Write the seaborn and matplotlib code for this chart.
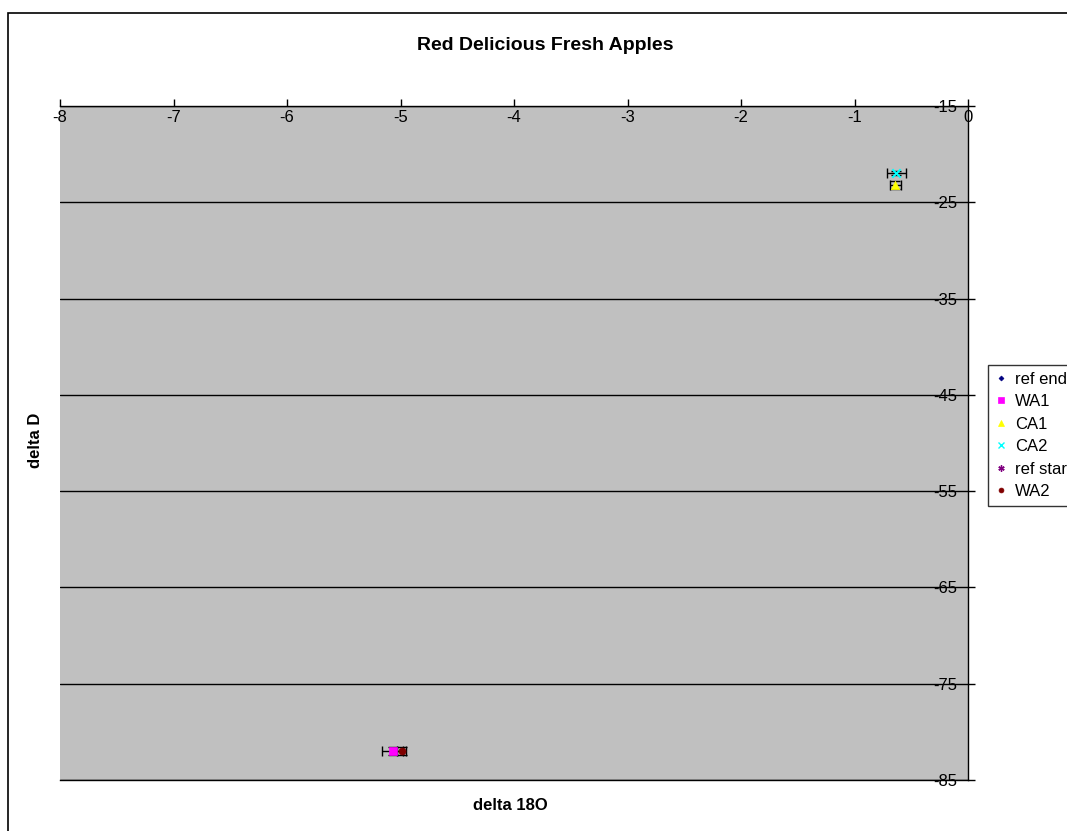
import matplotlib
matplotlib.use("Agg")
import matplotlib.pyplot as plt
from matplotlib.lines import Line2D
from matplotlib.patches import Rectangle
import seaborn as sns
import pandas as pd

# ---- data ----
series_all = ["ref end", "WA1", "CA1", "CA2", "ref star", "WA2"]
series = ["WA1", "CA1", "CA2", "WA2"]
delta18O = [-5.07, -0.64, -0.63, -4.99]
deltaD = [-82.0, -23.2, -22.0, -82.0]
err18O = [0.09, 0.05, 0.08, 0.04]
errD = [0.45, 0.45, 0.2, 0.45]
xticks = [-8, -7, -6, -5, -4, -3, -2, -1, 0]
yticks = [-15, -25, -35, -45, -55, -65, -75, -85]

colors = {"ref end": "#000080", "WA1": "#FF00FF", "CA1": "#FFFF00",
          "CA2": "#00FFFF", "ref star": "#800080", "WA2": "#800000"}
markers = {"ref end": "D", "WA1": "s", "CA1": "^", "CA2": "x",
           "ref star": (6, 2, 0), "WA2": "o"}
msizes = {"ref end": 4, "WA1": 6, "CA1": 6, "CA2": 6, "ref star": 6, "WA2": 5}

sns.set_theme(style="white")
plt.rcParams["font.family"] = ["Liberation Sans", "DejaVu Sans"]
plt.rcParams["axes.unicode_minus"] = False
plt.rcParams["text.color"] = "black"

W, H = 1067, 831
fig = plt.figure(figsize=(W / 100, H / 100), dpi=100)
ax = fig.add_axes([60 / W, 1 - 780 / H, (968 - 60) / W, (780 - 106) / H])
ax.set_facecolor("#C0C0C0")

df = pd.DataFrame({"series": series, "x": delta18O, "y": deltaD,
                   "xe": err18O, "ye": errD})

ax.errorbar(df["x"], df["y"], xerr=df["xe"], yerr=df["ye"], fmt="none",
            ecolor="black", elinewidth=1, capsize=3.5, capthick=1, zorder=3)
for s in series:
    sub = df[df["series"] == s]
    sns.scatterplot(data=sub, x="x", y="y", ax=ax, color=colors[s],
                    marker=markers[s], s=msizes[s] ** 2,
                    edgecolor=colors[s] if markers[s] != "x" else None,
                    linewidth=1.5 if markers[s] == "x" else 0.5,
                    legend=False, zorder=5)

ax.set_xlim(-8, 0)
ax.set_ylim(-85, -15)
ax.set_xticks(xticks)
ax.set_yticks(yticks)
ax.set_xlabel("")
ax.set_ylabel("")

ax.xaxis.tick_top()
ax.yaxis.tick_right()
ax.tick_params(axis="x", direction="out", length=5, width=1, color="black",
               pad=-5 - 3, labelsize=12, labelcolor="black")
ax.tick_params(axis="y", direction="out", length=5, width=1, color="black",
               pad=-5 - 8, labelsize=12, labelcolor="black")
for lbl in ax.get_xticklabels():
    lbl.set_va("top")
for lbl in ax.get_yticklabels():
    lbl.set_ha("right")

ax.yaxis.grid(True, color="black", linewidth=1)
ax.xaxis.grid(False)
ax.set_axisbelow(True)
ax.spines["left"].set_visible(False)
for side in ["top", "right", "bottom"]:
    ax.spines[side].set_visible(True)
    ax.spines[side].set_color("black")
    ax.spines[side].set_linewidth(1)

fig.text(545 / W, 1 - 45 / H, "Red Delicious Fresh Apples", ha="center",
         va="center", fontsize=14, fontweight="bold", color="black")
fig.text(510 / W, 1 - 805 / H, "delta 18O", ha="center", va="center",
         fontsize=12, fontweight="bold", color="black")
fig.text(35 / W, 1 - 440 / H, "delta D", ha="center", va="center",
         fontsize=12, fontweight="bold", rotation=90, color="black")

handles = [Line2D([], [], linestyle="none", marker=markers[s],
                  color=colors[s], markersize=msizes[s] - 1.5,
                  markeredgewidth=1 if markers[s] in ("x",) or isinstance(markers[s], tuple) else 0.5)
           for s in series_all]
leg = fig.legend(handles, series_all, loc="upper left",
                 bbox_to_anchor=(988 / W, 1 - 365 / H), borderaxespad=0,
                 fontsize=12, frameon=True, fancybox=False, handlelength=0.8,
                 handletextpad=0.4, labelspacing=0.45, borderpad=0.4)
leg.get_frame().set_edgecolor("black")
leg.get_frame().set_linewidth(1)
for t in leg.get_texts():
    t.set_color("black")

fig.add_artist(Rectangle((8 / W, -0.1), 1.2, 1 - 13 / H + 0.1,
                         transform=fig.transFigure, fill=False,
                         edgecolor="black", linewidth=1.2))

fig.savefig("out.png", dpi=100)
